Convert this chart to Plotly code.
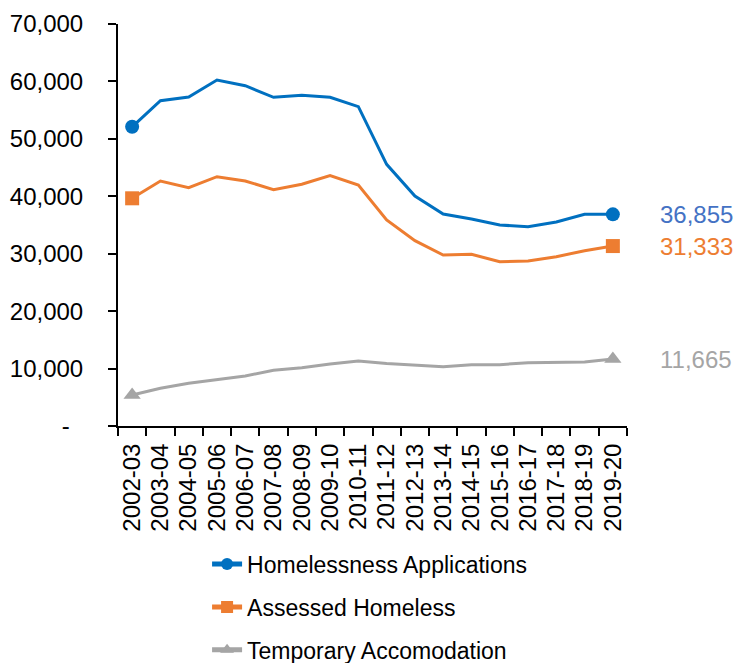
import plotly.graph_objects as go

years = ["2002-03", "2003-04", "2004-05", "2005-06", "2006-07", "2007-08", "2008-09",
         "2009-10", "2010-11", "2011-12", "2012-13", "2013-14", "2014-15", "2015-16",
         "2016-17", "2017-18", "2018-19", "2019-20"]

applications = [52100, 56650, 57290, 60250, 59260, 57230, 57580, 57230, 55600, 45570,
                40050, 36910, 36040, 35000, 34700, 35520, 36860, 36855]
assessed = [39650, 42660, 41500, 43410, 42660, 41150, 42090, 43590, 41960, 35870,
            32270, 29780, 29900, 28610, 28730, 29480, 30530, 31333]
temporary = [5400, 6560, 7430, 8010, 8710, 9700, 10150, 10800, 11320, 10880,
             10570, 10330, 10680, 10680, 11030, 11090, 11140, 11665]

series_names = ["Homelessness Applications", "Assessed Homeless", "Temporary Accomodation"]
line_colors = ["#0070C0", "#ED7D31", "#A5A5A5"]
label_colors = ["#4472C4", "#ED7D31", "#A5A5A5"]
symbols = ["circle", "square", "triangle-up"]
marker_sizes = [14, 14, 15]

y_tickvals = [0, 10000, 20000, 30000, 40000, 50000, 60000, 70000]
y_ticktext = ["-\u00a0\u00a0", "10,000", "20,000", "30,000", "40,000", "50,000", "60,000", "70,000"]

FONT = "Liberation Sans, Arial, Helvetica, sans-serif"

fig = go.Figure()
for i, vals in enumerate([applications, assessed, temporary]):
    n = len(vals)
    sizes = [marker_sizes[i] if (k == 0 or k == n - 1) else 0 for k in range(n)]
    fig.add_trace(go.Scatter(
        x=years, y=vals, name=series_names[i], mode="lines+markers",
        line=dict(color=line_colors[i], width=3),
        marker=dict(symbol=symbols[i], size=sizes, color=line_colors[i],
                    opacity=1, line=dict(width=0)),
        legendgroup=str(i),
    ))
    fig.add_annotation(
        x=1.061, xref="paper", y=vals[-1], yref="y", xanchor="left", yanchor="middle",
        text=f"{vals[-1]:,}", showarrow=False,
        font=dict(size=24, color=label_colors[i], family=FONT),
    )

fig.update_layout(
    width=747, height=663,
    margin=dict(l=118, r=120, t=24, b=237, autoexpand=False),
    plot_bgcolor="white", paper_bgcolor="white",
    font=dict(family=FONT, color="black", size=24),
    showlegend=True,
    legend=dict(
        x=0.175, y=-0.29, xanchor="left", yanchor="top",
        orientation="v", tracegroupgap=10,
        font=dict(size=23, color="black", family=FONT),
        itemsizing="constant",
    ),
)
fig.update_xaxes(
    type="category", range=[-0.5, len(years) - 0.5],
    showgrid=False, showline=True, linecolor="black", linewidth=2,
    ticks="outside", ticklen=8, tickwidth=1.5, tickcolor="black", tickson="boundaries",
    tickmode="array", tickvals=years, ticktext=years, automargin=False,
    tickangle=-90, tickfont=dict(size=24, color="black"), ticklabelstandoff=6,
)
fig.update_yaxes(
    range=[0, 70000], showgrid=False, showline=True, linecolor="black", linewidth=2,
    ticks="outside", ticklen=8, tickwidth=1.5, tickcolor="black", automargin=False,
    tickvals=y_tickvals, ticktext=y_ticktext, zeroline=False,
    tickfont=dict(size=24, color="black"), ticklabelstandoff=20,
)

fig.write_html("out.html")
